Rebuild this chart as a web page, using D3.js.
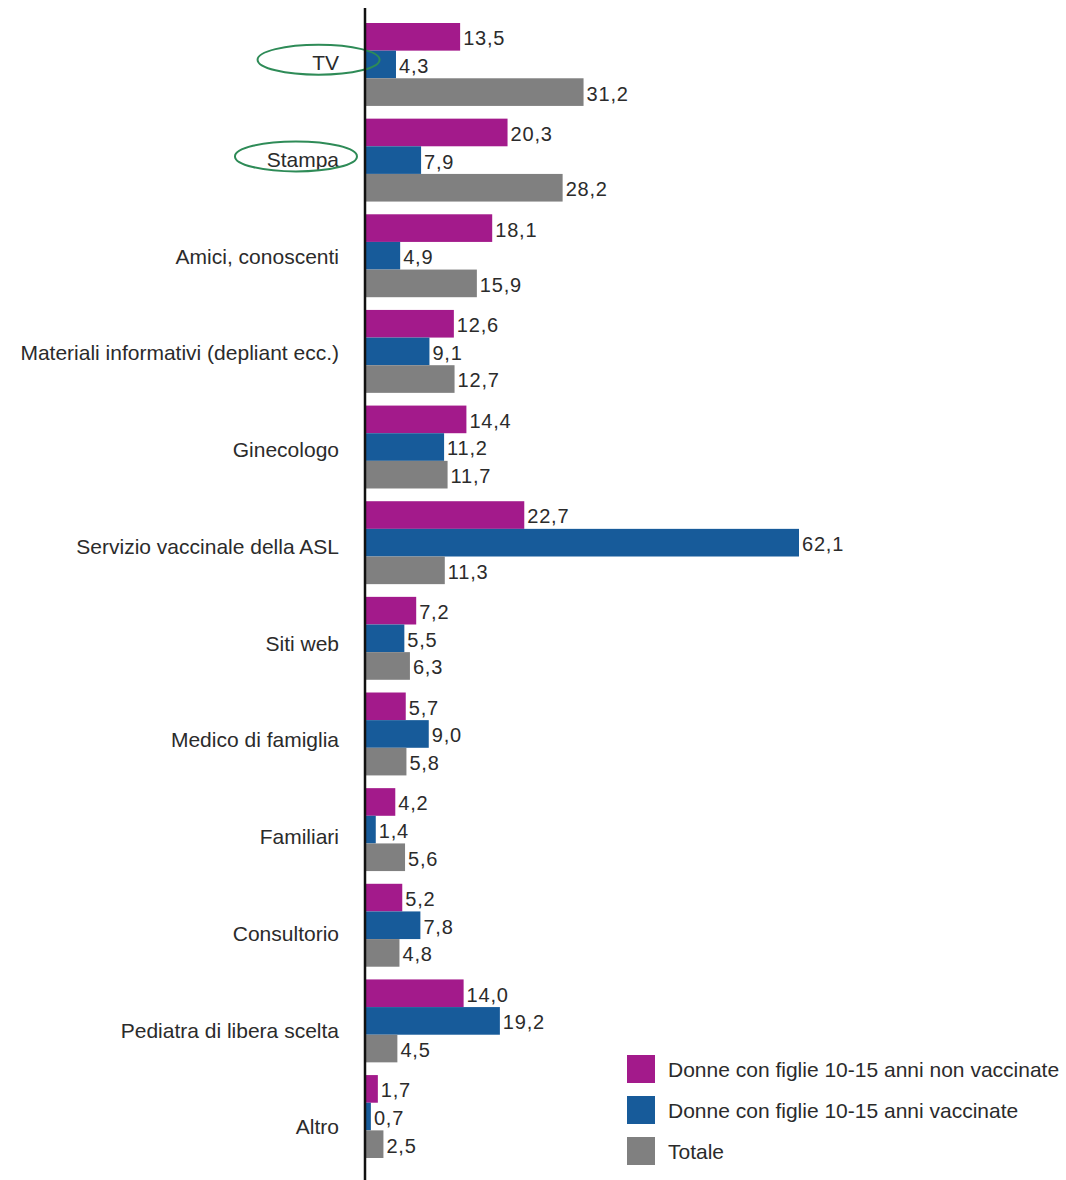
<!DOCTYPE html>
<html>
<head>
<meta charset="utf-8">
<script src="https://cdn.jsdelivr.net/npm/d3@7"></script>
<style>
  body { margin: 0; background: #fff; }
  svg text { font-family: "Liberation Sans", Arial, sans-serif; fill: #2b2b2b; }
</style>
</head>
<body>
<svg width="1066" height="1180"></svg>
<script>
var categories = ['TV', 'Stampa', 'Amici, conoscenti', 'Materiali informativi (depliant ecc.)',
  'Ginecologo', 'Servizio vaccinale della ASL', 'Siti web', 'Medico di famiglia',
  'Familiari', 'Consultorio', 'Pediatra di libera scelta', 'Altro'];
var seriesNames = ['Donne con figlie 10-15 anni non vaccinate',
  'Donne con figlie 10-15 anni vaccinate', 'Totale'];
var nonVaccinate = [13.5, 20.3, 18.1, 12.6, 14.4, 22.7, 7.2, 5.7, 4.2, 5.2, 14.0, 1.7];
var vaccinate = [4.3, 7.9, 4.9, 9.1, 11.2, 62.1, 5.5, 9.0, 1.4, 7.8, 19.2, 0.7];
var totale = [31.2, 28.2, 15.9, 12.7, 11.7, 11.3, 6.3, 5.8, 5.6, 4.8, 4.5, 2.5];
var colors = ['#a31a8b', '#175b9a', '#808080'];
var circled = ['TV', 'Stampa'];

var series = [nonVaccinate, vaccinate, totale];
var svg = d3.select('svg');
var fmt = function(v) { return d3.format('.1f')(v).replace('.', ','); };

var x0 = 366;
var x = d3.scaleLinear().domain([0, 62.1]).range([x0, x0 + 433]);
var y = d3.scaleBand().domain(categories).range([23, 1158]).paddingInner(0.133).paddingOuter(0);
var ys = d3.scaleBand().domain([0, 1, 2]).range([0, y.bandwidth()]);
// labels on the left drift a bit lower than the bar groups in the original
var yLabel = d3.scalePoint().domain(categories).range([63, 1127]);

var rows = svg.append('g').selectAll('g').data(categories).enter().append('g')
  .attr('transform', function(d) { return 'translate(0,' + y(d) + ')'; });

rows.each(function(cat, ci) {
  var g = d3.select(this);
  series.forEach(function(vals, si) {
    var v = vals[ci];
    g.append('rect')
      .attr('x', x(0)).attr('y', ys(si))
      .attr('width', x(v) - x(0)).attr('height', ys.bandwidth())
      .attr('fill', colors[si]);
    g.append('text')
      .attr('x', x(v) + 3).attr('y', ys(si) + ys.bandwidth() / 2)
      .attr('dy', '0.42em').style('font-size', '20px').style('letter-spacing', '0.8px')
      .text(fmt(v));
  });
});

// category labels
var axis = d3.axisLeft(yLabel).tickSize(0).tickPadding(27);
var ax = svg.append('g').attr('transform', 'translate(' + x0 + ',0)').call(axis);
ax.select('.domain').remove();
ax.selectAll('text').style('font-size', '21px').attr('fill', '#2b2b2b')
  .attr('font-family', null);

svg.append('line')
  .attr('x1', x0 - 1).attr('x2', x0 - 1).attr('y1', 8).attr('y2', 1180)
  .attr('stroke', '#111').attr('stroke-width', 2.5);

// green ellipses around the highlighted labels
ax.selectAll('.tick').filter(function(d) { return circled.indexOf(d) >= 0; })
  .each(function() {
    var t = d3.select(this).select('text').node().getBBox();
    d3.select(this).append('ellipse')
      .attr('cx', t.x + t.width / 2 - 7).attr('cy', t.y + t.height / 2 - 3)
      .attr('rx', 61).attr('ry', 15)
      .attr('fill', 'none').attr('stroke', '#2e8b57').attr('stroke-width', 2);
  });

// legend
var legend = svg.append('g').attr('transform', 'translate(627,1055)');
seriesNames.forEach(function(name, i) {
  legend.append('rect').attr('x', 0).attr('y', i * 41)
    .attr('width', 28).attr('height', 28).attr('fill', colors[i]);
  legend.append('text').attr('x', 41).attr('y', i * 41 + 14)
    .attr('dy', '0.36em').style('font-size', '21px').text(name);
});
</script>
</body>
</html>
